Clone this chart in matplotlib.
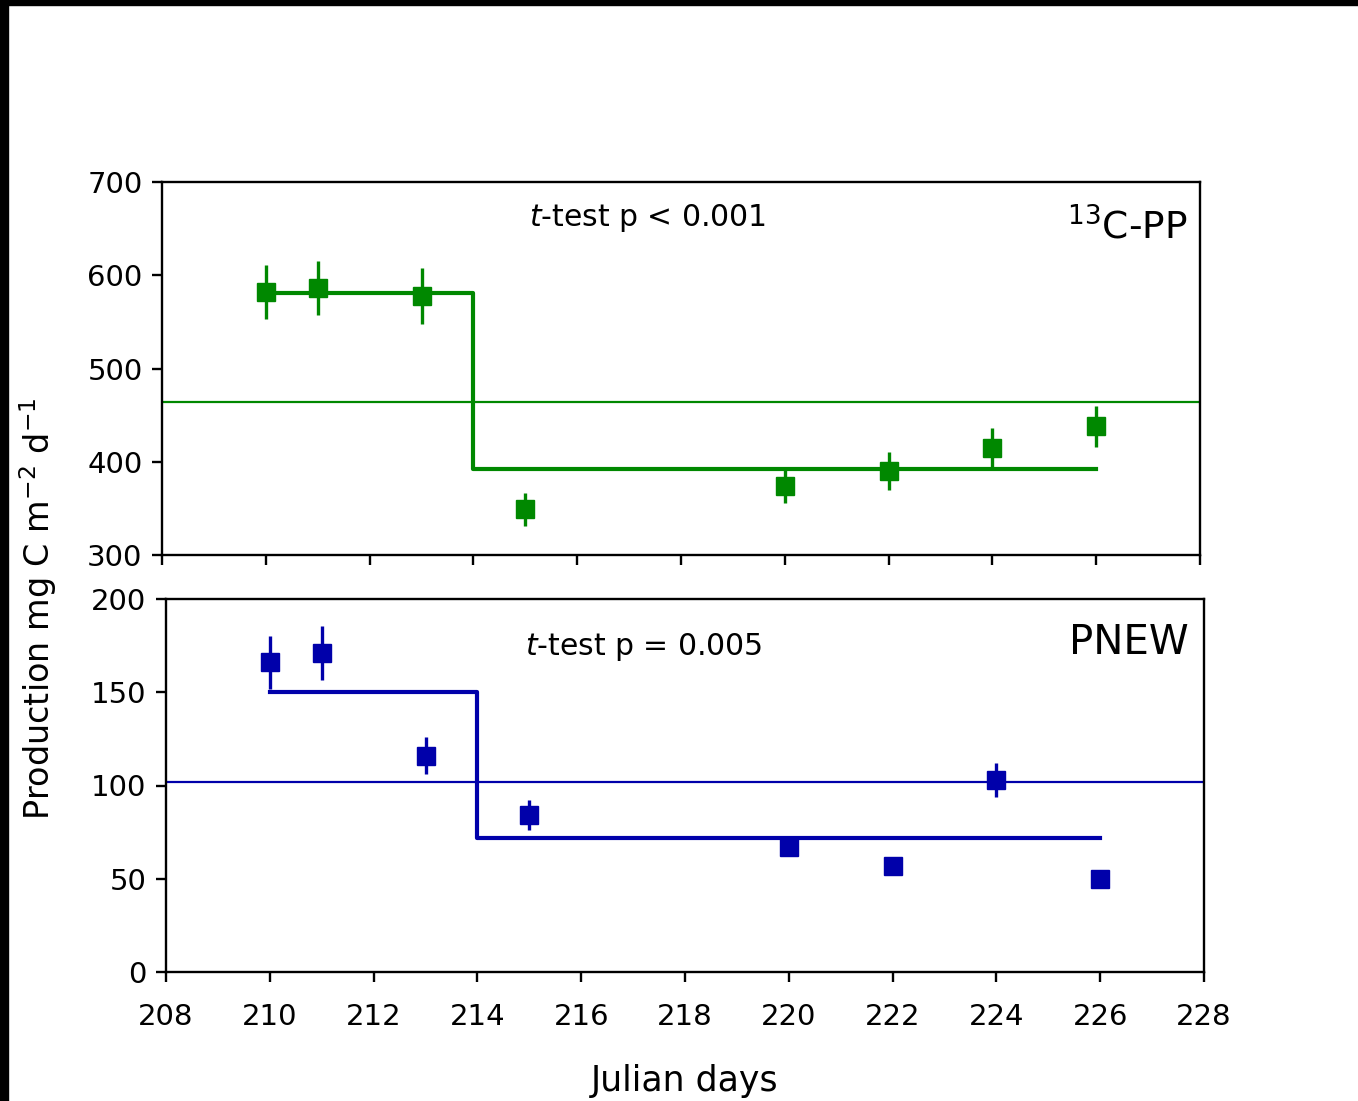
import matplotlib
matplotlib.use("Agg")
import matplotlib.pyplot as plt
from matplotlib.patches import Rectangle

# ---- data ----
days = [210, 211, 213, 215, 220, 222, 224, 226]

pp_vals = [582, 586, 578, 349, 374, 390, 415, 438]
pp_err = [29, 29, 30, 18, 18, 20, 21, 22]
pp_step_x = [210, 214, 226]
pp_step_y = [581, 392, 392]
pp_mean = 464

pnew_vals = [166, 171, 116, 84, 67, 57, 103, 50]
pnew_err = [14, 14.5, 10, 8, 3, 2, 9, 0.5]
pnew_step_x = [210, 214, 226]
pnew_step_y = [150, 72, 72]
pnew_mean = 102

xticks = [208, 210, 212, 214, 216, 218, 220, 222, 224, 226, 228]
pp_yticks = [300, 400, 500, 600, 700]
pnew_yticks = [0, 50, 100, 150, 200]

GREEN = "#008800"
BLUE = "#0000AA"

plt.rcParams["font.family"] = ["DejaVu Sans"]
plt.rcParams["mathtext.fontset"] = "dejavusans"

W, H = 1358, 1101
fig = plt.figure(figsize=(W / 100, H / 100), dpi=100)

ax1 = fig.add_axes([162 / W, 1 - 555 / H, 1038 / W, 373 / H])
ax2 = fig.add_axes([166 / W, 1 - 972 / H, 1038 / W, 373 / H])

def style(ax, yticks, ylim, show_xlabels):
    ax.set_xlim(208, 228)
    ax.set_ylim(*ylim)
    ax.set_xticks(xticks)
    ax.set_yticks(yticks)
    for s in ax.spines.values():
        s.set_linewidth(1.7)
    ax.tick_params(direction="out", length=7, width=1.7, labelsize=21, pad=7)
    ax.tick_params(axis="x", pad=15)
    if not show_xlabels:
        ax.set_xticklabels([])

def panel(ax, vals, err, sx, sy, mean, color):
    ax.axhline(mean, color=color, lw=1.6, zorder=2)
    ax.step(sx, sy, where="post", color=color, lw=3, zorder=2)
    ax.errorbar(days, vals, yerr=err, fmt="s", color=color, ms=13,
                elinewidth=2.4, capsize=0, zorder=3)

panel(ax1, pp_vals, pp_err, pp_step_x, pp_step_y, pp_mean, GREEN)
panel(ax2, pnew_vals, pnew_err, pnew_step_x, pnew_step_y, pnew_mean, BLUE)

style(ax1, pp_yticks, (300, 700), False)
style(ax2, pnew_yticks, (0, 200), True)

ax1.text(0.468, 0.903, r"$\mathit{t}$-test p < 0.001", transform=ax1.transAxes,
         ha="center", va="center", fontsize=21.5)
ax1.text(0.988, 0.877, r"$^{13}$C-PP", transform=ax1.transAxes,
         ha="right", va="center", fontsize=27)

ax2.text(0.46, 0.872, r"$\mathit{t}$-test p = 0.005", transform=ax2.transAxes,
         ha="center", va="center", fontsize=21.5)
ax2.text(0.985, 0.882, "PNEW", transform=ax2.transAxes,
         ha="right", va="center", fontsize=29)

fig.text(38 / W, 1 - 609 / H, r"Production mg C m$^{-2}$ d$^{-1}$",
         rotation=90, ha="center", va="center", fontsize=24)
fig.text(685 / W, 1 - 1081 / H, "Julian days", ha="center", va="center",
         fontsize=25)

# black border strips
fig.patches.append(Rectangle((0, 1 - 5 / H), 1, 5 / H, transform=fig.transFigure,
                             color="black", zorder=10))
fig.patches.append(Rectangle((0, 0), 8 / W, 1, transform=fig.transFigure,
                             color="black", zorder=10))

fig.savefig("out.png", dpi=100)
